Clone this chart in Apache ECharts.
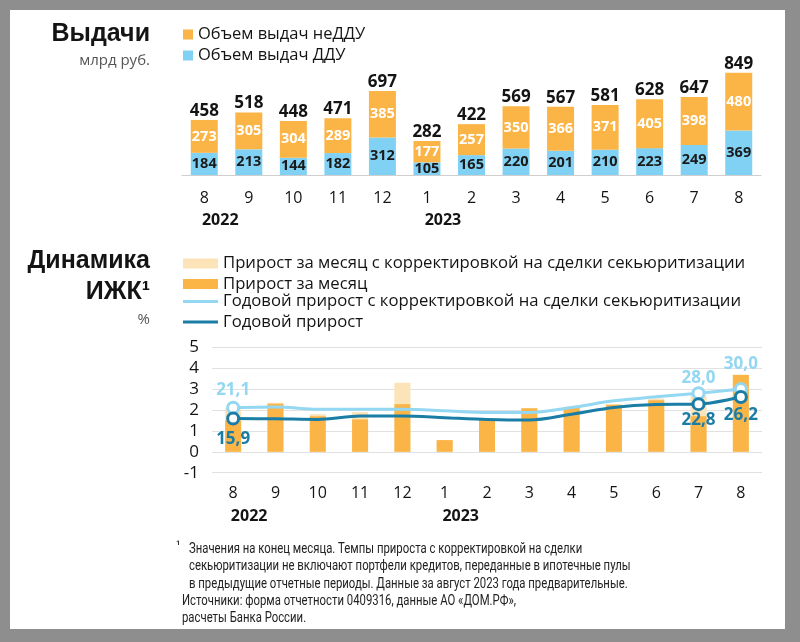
<!DOCTYPE html>
<html><head><meta charset="utf-8">
<script src="https://cdn.jsdelivr.net/npm/echarts@6/dist/echarts.min.js"></script>
<style>html,body{margin:0;padding:0;background:#8e8e8e}#c{width:800px;height:642px}</style>
</head><body><div id="c"></div><script>
// ---- data ----
const months = ['8','9','10','11','12','1','2','3','4','5','6','7','8'];
const yearLabels = ['2022','','','','','2023','','','','','','',''];
const issuesDDU    = [184,213,144,182,312,105,165,220,201,210,223,249,369];
const issuesNonDDU = [273,305,304,289,385,177,257,350,366,371,405,398,480];
const issuesTotal  = [458,518,448,471,697,282,422,569,567,581,628,647,849];
const monthlyGrowthAdj = [2.1,2.35,1.8,1.9,3.3,0.56,1.55,2.1,2.15,2.27,2.55,2.7,3.7];
const monthlyGrowth    = [1.5,2.3,1.7,1.55,2.28,0.56,1.52,2.08,2.12,2.25,2.47,1.7,3.67];
const annualGrowthAdj  = [21.1,21.4,20.4,20.3,20.3,19.6,18.8,18.8,21.2,24.4,26.3,28.0,30.0];
const annualGrowth     = [15.9,15.8,15.5,17.1,17.1,16.3,15.5,15.2,18.0,21.2,22.6,22.8,26.2];
const growthTicks = [-1,0,1,2,3,4,5];

const FONT = "'Open Sans', sans-serif";
const TITLE_FONT = "bold 25px 'Liberation Sans', Arial, sans-serif";
const NOTE_FONT = "15px Roboto, sans-serif";
const C_ORANGE = '#FBB547', C_BLUE = '#80D1F3', C_BEIGE = '#FCE3B8',
      C_LIGHT = '#93D7F2', C_DARK = '#1A7DA6', C_TEXT = '#141414';

const fmt = v => v.toFixed(1).replace('.', ',');
function markPoints(vals, color, marks) {
  return vals.map((v, i) => {
    const m = marks[i];
    if (!m) return v;
    return {
      value: v, symbol: 'circle', symbolSize: 11,
      itemStyle: {color: '#fff', borderColor: color, borderWidth: 3},
      label: {show: true, position: m[0], distance: m[1], color: color,
              fontSize: 17, fontWeight: 'bold', fontFamily: FONT,
              formatter: p => fmt(p.value)}
    };
  });
}
const lightMarks = {0: ['top', 2.5], 11: ['top', 0], 12: ['top', 9.5]};
const darkMarks  = {0: ['bottom', 5.5], 11: ['bottom', 0.5], 12: ['bottom', 2.5]};

function axisLabelFmt(v, i) {
  return yearLabels[i] ? '{m|' + v + '}\n{y|' + yearLabels[i] + '}' : '{m|' + v + '}';
}

const chart = echarts.init(document.getElementById('c'), null, {renderer: 'canvas'});
chart.setOption({
  backgroundColor: '#8e8e8e',
  animation: false,
  textStyle: {fontFamily: FONT},
  graphic: [
    {type: 'rect', z: -10, silent: true, shape: {x: 10, y: 10, width: 775, height: 619}, style: {fill: '#fff'}},
    {type: 'text', right: 650, top: 22, style: {text: 'Выдачи', font: TITLE_FONT, fill: C_TEXT}},
    {type: 'text', right: 650, top: 53, style: {text: 'млрд руб.', font: "15px 'Open Sans'", fill: '#555'}},
    {type: 'text', right: 650, top: 249, style: {text: 'Динамика', font: TITLE_FONT, fill: C_TEXT}},
    {type: 'text', right: 650, top: 280, style: {text: 'ИЖК¹', font: TITLE_FONT, fill: C_TEXT}},
    {type: 'text', right: 650, top: 312, style: {text: '%', font: "15px 'Open Sans'", fill: '#555'}},
    {type: 'text', left: 176, top: 540, style: {text: '¹', font: "12px Roboto", fill: '#222'}},
    {type: 'text', left: 189, top: 540, scaleX: 0.756, style: {
      text: 'Значения на конец месяца. Темпы прироста с корректировкой на сделки\nсекьюритизации не включают портфели кредитов, переданные в ипотечные пулы\nв предыдущие отчетные периоды. Данные за август 2023 года предварительные.',
      font: NOTE_FONT, fill: '#222', lineHeight: 17.5}},
    {type: 'text', left: 182, top: 592, scaleX: 0.756, style: {
      text: 'Источники: форма отчетности 0409316, данные АО «ДОМ.РФ»,\nрасчеты Банка России.',
      font: NOTE_FONT, fill: '#222', lineHeight: 17.5}}
  ],
  legend: [
    {orient: 'vertical', left: 183, top: 26, padding: 0, itemWidth: 10, itemHeight: 10, itemGap: 4,
     icon: 'rect', selectedMode: false, itemStyle: {borderWidth: 0},
     textStyle: {fontSize: 16.5, lineHeight: 15, color: C_TEXT},
     data: ['Объем выдач неДДУ', 'Объем выдач ДДУ']},
    {orient: 'vertical', left: 183, top: 255, padding: 0, itemWidth: 35, itemHeight: 10, itemGap: 3.5,
     icon: 'rect', selectedMode: false, itemStyle: {borderWidth: 0},
     textStyle: {fontSize: 16.7, lineHeight: 16, color: C_TEXT},
     data: ['Прирост за месяц с корректировкой на сделки секьюритизации', 'Прирост за месяц']},
    {orient: 'vertical', left: 183, top: 293, padding: 0, itemWidth: 35, itemHeight: 3, itemGap: 3.5,
     icon: 'rect', selectedMode: false, itemStyle: {borderWidth: 0},
     textStyle: {fontSize: 16.7, lineHeight: 16, color: C_TEXT},
     data: ['Годовой прирост с корректировкой на сделки секьюритизации', 'Годовой прирост']}
  ],
  grid: [
    {left: 182, right: 39, top: 54.5, height: 120.5},
    {left: 212, right: 38, top: 347.3, height: 125.4}
  ],
  xAxis: [
    {gridIndex: 0, type: 'category', data: months,
     axisLine: {lineStyle: {color: '#cfcfcf', width: 1}}, axisTick: {show: false},
     axisLabel: {interval: 0, margin: 12, formatter: axisLabelFmt,
       rich: {m: {fontSize: 16, lineHeight: 22, color: C_TEXT, fontFamily: FONT},
              y: {fontSize: 16, lineHeight: 22, color: C_TEXT, fontWeight: 'bold', fontFamily: FONT, padding: [0, 0, 0, 32]}}}},
    {gridIndex: 1, type: 'category', data: months,
     axisLine: {show: false}, axisTick: {show: false},
     axisLabel: {interval: 0, margin: 9, formatter: axisLabelFmt,
       rich: {m: {fontSize: 16, lineHeight: 23, color: C_TEXT, fontFamily: FONT},
              y: {fontSize: 16, lineHeight: 23, color: C_TEXT, fontWeight: 'bold', fontFamily: FONT, padding: [0, 0, 0, 32]}}}}
  ],
  yAxis: [
    {gridIndex: 0, type: 'value', min: 0, max: 1000, show: false},
    {gridIndex: 1, type: 'value', min: growthTicks[0], max: growthTicks[growthTicks.length - 1], interval: 1,
     axisLine: {show: false}, axisTick: {show: false},
     splitLine: {lineStyle: {color: '#e1e1e1', width: 1}},
     axisLabel: {fontSize: 17, color: C_TEXT, margin: 13}},
    {gridIndex: 1, type: 'value', min: -10, max: 50, show: false, splitLine: {show: false}}
  ],
  series: [
    {type: 'bar', name: 'Объем выдач ДДУ', xAxisIndex: 0, yAxisIndex: 0, stack: 'iss', barWidth: 27,
     data: issuesDDU, itemStyle: {color: C_BLUE},
     label: {show: true, position: 'inside', color: '#1a1a1a', fontSize: 14.5, fontWeight: 'bold', textBorderWidth: 0}},
    {type: 'bar', name: 'Объем выдач неДДУ', xAxisIndex: 0, yAxisIndex: 0, stack: 'iss', barWidth: 27,
     data: issuesNonDDU, itemStyle: {color: C_ORANGE},
     label: {show: true, position: 'inside', color: '#fff', fontSize: 14.5, fontWeight: 'bold', textBorderWidth: 0}},
    {type: 'line', name: 'Всего', xAxisIndex: 0, yAxisIndex: 0, data: issuesTotal,
     symbol: 'circle', symbolSize: 1, lineStyle: {width: 0, color: 'rgba(0,0,0,0)'},
     itemStyle: {color: 'rgba(0,0,0,0)', borderWidth: 0}, silent: true,
     label: {show: true, position: 'top', distance: 0, color: C_TEXT, fontSize: 17, fontWeight: 'bold'}},
    {type: 'bar', name: 'Прирост за месяц с корректировкой на сделки секьюритизации', xAxisIndex: 1, yAxisIndex: 1,
     barWidth: 16, barGap: '-100%', data: monthlyGrowthAdj, itemStyle: {color: C_BEIGE}},
    {type: 'bar', name: 'Прирост за месяц', xAxisIndex: 1, yAxisIndex: 1,
     barWidth: 16, barGap: '-100%', data: monthlyGrowth, itemStyle: {color: C_ORANGE}},
    {type: 'line', name: 'Годовой прирост с корректировкой на сделки секьюритизации', xAxisIndex: 1, yAxisIndex: 2,
     smooth: 0.3, symbol: 'none', color: C_LIGHT, lineStyle: {color: C_LIGHT, width: 3},
     data: markPoints(annualGrowthAdj, C_LIGHT, lightMarks)},
    {type: 'line', name: 'Годовой прирост', xAxisIndex: 1, yAxisIndex: 2,
     smooth: 0.3, symbol: 'none', color: C_DARK, lineStyle: {color: C_DARK, width: 3},
     data: markPoints(annualGrowth, C_DARK, darkMarks)}
  ]
});
</script></body></html>
